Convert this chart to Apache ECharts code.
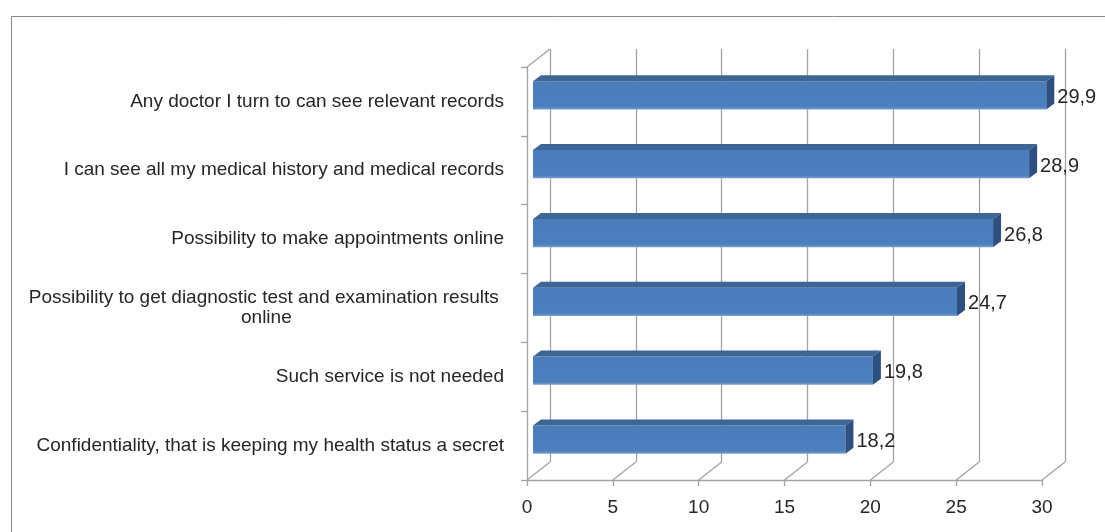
<!DOCTYPE html>
<html>
<head>
<meta charset="utf-8">
<script src="https://cdn.jsdelivr.net/npm/echarts@6/dist/echarts.min.js"></script>
<style>
  html, body { margin: 0; padding: 0; background: #fff; }
  #chart { width: 1105px; height: 532px; }
</style>
</head>
<body>
<div id="chart"></div>
<script>
// Survey answers, listed top to bottom
const categories = [
  'Any doctor I turn to can see relevant records',
  'I can see all my medical history and medical records',
  'Possibility to make appointments online',
  'Possibility to get diagnostic test and examination results \nonline',
  'Such service is not needed',
  'Confidentiality, that is keeping my health status a secret'
];
const values = [29.9, 28.9, 26.8, 24.7, 19.8, 18.2];
const axisMin = 0;
const axisMax = 30;
const axisStep = 5;
const tickValues = [0, 5, 10, 15, 20, 25, 30];

// depth of the 3D box and of each bar (pixels)
const BOX_DX = 23, BOX_DY = -18;
const BAR_DX = 8, BAR_DY = -6, BAR_SHIFT = 6;
const GRID_COLOR = '#a3a3a3';
const TEXT_COLOR = '#262626';
const FONT = '"Liberation Sans", Arial, sans-serif';

const chart = echarts.init(document.getElementById('chart'));

function fmt(v) { return v.toFixed(1).replace('.', ','); }

function renderBar(params, api) {
  const v = api.value(0), cat = api.value(1);
  const base = api.coord([axisMin, cat]);
  const end = api.coord([v, cat]);
  const band = api.size([0, 1])[1];
  const h = band * 0.41;
  const cy = base[1] - band * 0.088;
  const x0 = base[0] + BAR_SHIFT, x1 = end[0] + BAR_SHIFT;
  const y0 = cy - h / 2, y1 = cy + h / 2;
  return {
    type: 'group',
    children: [
      { type: 'rect', shape: { x: x0, y: y0, width: x1 - x0, height: h },
        style: { fill: new echarts.graphic.LinearGradient(0, 0, 0, 1, [
          { offset: 0, color: '#4a7dba' }, { offset: 0.9, color: '#4b7fbd' }, { offset: 1, color: '#7e9fcc' }]) } },
      { type: 'polygon', shape: { points: [[x0, y0], [x0 + BAR_DX, y0 + BAR_DY], [x1 + BAR_DX, y0 + BAR_DY], [x1, y0]] },
        style: { fill: '#3d6595' } },
      { type: 'polygon', shape: { points: [[x1, y0], [x1 + BAR_DX, y0 + BAR_DY], [x1 + BAR_DX, y1 + BAR_DY], [x1, y1]] },
        style: { fill: '#2e5080' } },
      { type: 'text', x: x1 + BAR_DX + 3, y: cy + 2,
        style: { text: fmt(v), fill: TEXT_COLOR, font: '20px ' + FONT,
                 align: 'left', verticalAlign: 'middle' } }
    ]
  };
}

// floor diagonals running from the front axis to the back wall
function renderFloor(params, api) {
  const v = api.value(0);
  const p = api.coord([v, categories.length - 1]);
  const band = api.size([0, 1])[1];
  const y = p[1] + band / 2;
  return { type: 'line', shape: { x1: p[0], y1: y, x2: p[0] + BOX_DX, y2: y + BOX_DY },
           style: { stroke: GRID_COLOR, lineWidth: 1.3 } };
}

// top edge of the left wall
function renderWallTop(params, api) {
  const p = api.coord([axisMin, 0]);
  const band = api.size([0, 1])[1];
  const y = p[1] - band / 2;
  return { type: 'line', shape: { x1: p[0], y1: y, x2: p[0] + BOX_DX, y2: y + BOX_DY },
           style: { stroke: GRID_COLOR, lineWidth: 1.3 } };
}

chart.setOption({
  animation: false,
  backgroundColor: '#fff',
  graphic: [{
    type: 'rect', shape: { x: 11.5, y: 16.5, width: 1200, height: 600 },
    style: { fill: 'none', stroke: '#8a8a8a', lineWidth: 1 }, z: -10
  }],
  grid: [
    { left: 527, right: 63, top: 67, bottom: 52 },
    { left: 527 + BOX_DX, right: 63 - BOX_DX, top: 67 + BOX_DY, bottom: 52 - BOX_DY }
  ],
  xAxis: [
    {
      gridIndex: 0, type: 'value', min: axisMin, max: axisMax, interval: axisStep,
      axisLine: { show: true, lineStyle: { color: GRID_COLOR, width: 1.3 } },
      axisTick: { show: true, length: 6, lineStyle: { color: GRID_COLOR, width: 1.3 } },
      splitLine: { show: false },
      axisLabel: { margin: 18, fontSize: 19, color: TEXT_COLOR, fontFamily: FONT }
    },
    {
      gridIndex: 1, type: 'value', min: axisMin, max: axisMax, interval: axisStep,
      axisLine: { show: false }, axisTick: { show: false }, axisLabel: { show: false },
      splitLine: { show: true, lineStyle: { color: GRID_COLOR, width: 1.3 } }
    }
  ],
  yAxis: [
    {
      gridIndex: 0, type: 'category', data: categories, inverse: true,
      axisLine: { show: true, lineStyle: { color: GRID_COLOR, width: 1.3 } },
      axisTick: { show: true, length: 6, lineStyle: { color: GRID_COLOR, width: 1.3 } },
      splitLine: { show: false },
      axisLabel: {
        margin: 23, fontSize: 19, color: TEXT_COLOR, fontFamily: FONT, lineHeight: 20,
        formatter: function (val) {
          return val.split('\n').map(function (s) { return '{c|' + s + '}'; }).join('\n');
        },
        rich: { c: { align: 'center', fontSize: 19, color: TEXT_COLOR, fontFamily: FONT, lineHeight: 20 } }
      }
    },
    {
      gridIndex: 1, type: 'category', data: categories, inverse: true,
      axisLine: { show: false }, axisTick: { show: false }, axisLabel: { show: false },
      splitLine: { show: false }
    }
  ],
  series: [
    {
      type: 'custom', xAxisIndex: 0, yAxisIndex: 0,
      data: tickValues.map(function (v) { return [v, categories.length - 1]; }),
      encode: { x: 0, y: 1 }, renderItem: renderFloor, silent: true, z: 1
    },
    {
      type: 'custom', xAxisIndex: 0, yAxisIndex: 0,
      data: [[axisMin, 0]], encode: { x: 0, y: 1 }, renderItem: renderWallTop, silent: true, z: 1
    },
    {
      type: 'custom', xAxisIndex: 0, yAxisIndex: 0,
      data: values.map(function (v, i) { return [v, i]; }),
      encode: { x: 0, y: 1 }, renderItem: renderBar, z: 3
    }
  ]
});
</script>
</body>
</html>
